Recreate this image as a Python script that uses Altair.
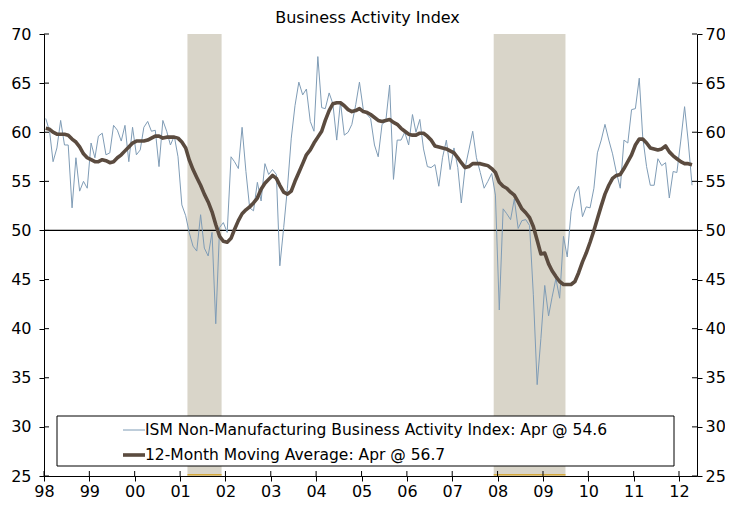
import altair as alt
import pandas as pd

# Monthly ISM Non-Manufacturing Business Activity Index, Jan 1998 - Apr 2012
ism = [
    61.4, 60.1, 57.0, 58.4, 61.2, 58.7, 58.7, 52.3, 57.4, 54.0, 55.0, 54.3,   # 1998
    58.9, 57.4, 59.6, 59.9, 57.7, 57.9, 60.7, 60.2, 59.1, 60.7, 57.0, 60.5,   # 1999
    57.7, 58.2, 60.5, 61.1, 60.1, 60.2, 56.5, 61.2, 60.1, 58.7, 59.6, 57.5,   # 2000
    52.6, 51.5, 49.8, 48.4, 47.9, 51.6, 48.2, 47.4, 49.8, 40.5, 50.3, 50.8,   # 2001
    49.8, 57.5, 57.0, 56.3, 60.5, 56.0, 52.3, 52.0, 54.9, 53.0, 56.8, 55.7,   # 2002
    56.2, 55.7, 46.4, 50.3, 54.3, 59.4, 62.7, 65.1, 63.8, 64.4, 61.1, 60.1,   # 2003
    67.7, 62.5, 62.4, 64.0, 62.9, 59.2, 63.1, 59.7, 60.0, 60.8, 62.8, 65.1,   # 2004
    62.3, 61.8, 61.4, 58.7, 57.5, 60.8, 61.1, 64.8, 55.2, 59.2, 59.2, 60.0,   # 2005
    58.7, 61.8, 60.0, 61.3, 58.3, 56.5, 56.4, 56.7, 54.5, 57.4, 59.2, 56.2,   # 2006
    58.4, 56.4, 52.8, 56.4, 58.2, 60.1, 57.4, 55.9, 54.3, 55.0, 55.8, 53.6,   # 2007
    41.9, 52.2, 51.7, 51.1, 53.2, 50.2, 51.0, 51.1, 50.5, 43.5, 34.3, 39.0,   # 2008
    44.4, 41.3, 43.2, 45.1, 43.1, 49.4, 47.3, 51.9, 53.8, 54.5, 51.4, 52.4,   # 2009
    52.3, 54.3, 57.9, 59.2, 60.8, 59.2, 57.8, 55.9, 54.3, 59.2, 58.9, 62.3,   # 2010
    62.4, 65.5, 59.5, 56.5, 54.6, 54.6, 57.3, 56.6, 56.9, 53.3, 56.0, 55.9,   # 2011
    59.1, 62.6, 59.1, 54.6,                                                   # 2012
]

# 12-month moving average
ma = [
    60.4, 60.3, 60.0, 59.8, 59.8, 59.8, 59.7, 59.3, 59.0, 58.5, 57.8, 57.4,
    57.2, 57.0, 57.0, 57.2, 57.1, 56.9, 57.0, 57.4, 57.7, 58.1, 58.5, 58.9,
    59.1, 59.1, 59.1, 59.2, 59.4, 59.6, 59.6, 59.4, 59.5, 59.5, 59.5, 59.4,
    59.0, 58.4, 57.2, 56.2, 55.4, 54.6, 53.7, 52.9, 51.9, 50.6, 49.4, 48.9,
    48.8, 49.2, 50.1, 51.0, 51.7, 52.1, 52.4, 52.8, 53.3, 54.2, 54.8, 55.2,
    55.6, 55.3, 54.6, 53.9, 53.7, 54.0, 55.0, 55.9, 56.8, 57.7, 58.2, 58.9,
    59.5, 60.1, 61.2, 62.2, 62.9, 63.0, 63.0, 62.7, 62.3, 62.1, 62.2, 62.4,
    62.1, 62.0, 61.8, 61.5, 61.2, 61.1, 61.2, 61.3, 61.0, 60.8, 60.4, 60.1,
    59.8, 59.7, 59.7, 59.9, 59.9, 59.6, 59.2, 58.6, 58.5, 58.4, 58.3, 58.1,
    57.9, 57.4, 56.9, 56.4, 56.5, 56.8, 56.8, 56.8, 56.7, 56.6, 56.3, 55.9,
    54.9, 54.5, 54.3, 53.9, 53.6, 52.9, 52.2, 51.8, 51.3, 50.4, 49.0, 47.6,
    47.7, 46.6, 45.9, 45.3, 44.8, 44.5, 44.5, 44.5, 44.8, 45.7, 46.8, 47.7,
    48.8, 50.0, 51.2, 52.5, 53.7, 54.6, 55.3, 55.6, 55.7, 56.3, 57.0, 57.7,
    58.7, 59.3, 59.3, 58.9, 58.4, 58.3, 58.2, 58.3, 58.6, 58.0, 57.6, 57.3,
    57.0, 56.8, 56.8, 56.7,
]

year_ticks = list(range(1998, 2013))
y_ticks = list(range(25, 75, 5))
rec_start = ["2001-03-01", "2007-12-01"]
rec_end = ["2001-12-01", "2009-07-01"]
legend_labels = [
    "ISM Non-Manufacturing Business Activity Index: Apr @ 54.6",
    "12-Month Moving Average: Apr @ 56.7",
]
title_text = "Business Activity Index"

FONT = "DejaVu Sans"
BLUE = "#7f9cb6"
BROWN = "#5b4b3f"
BAND = "#d9d5c9"

dates = [f"{1998 + i // 12}-{i % 12 + 1:02d}-15" for i in range(len(ism))]
df = pd.DataFrame({"date": dates, "ism": ism, "ma": ma})
rec = pd.DataFrame({"start": rec_start, "end": rec_end})
yt = pd.DataFrame({"v": y_ticks})
xt = pd.DataFrame({"t": [f"{y}-01-01" for y in year_ticks]})

W, H = 653, 442

xscale = alt.Scale(
    type="utc",
    domain=[
        alt.DateTime(year=1998, month=1, date=1, utc=True),
        alt.DateTime(year=2012, month=5, date=25, utc=True),
    ],
)
yscale = alt.Scale(domain=[25, 70], nice=False, zero=False)

xaxis = alt.Axis(
    values=[alt.DateTime(year=y, month=1, date=1, utc=True) for y in year_ticks],
    labelExpr="utcFormat(datum.value, '%y')",
    title=None,
    labelFlush=False,
    labelOverlap=False,
    tickSize=5,
    labelPadding=2,
)

def yaxis(orient, pad):
    return alt.Axis(
        values=y_ticks,
        orient=orient,
        title=None,
        tickSize=5,
        labelPadding=pad,
        labelFlush=False,
        labelOverlap=False,
    )

bands = alt.Chart(rec).mark_rect(color=BAND).encode(
    x=alt.X("start:T", scale=xscale, axis=xaxis),
    x2="end:T",
    y=alt.value(0),
    y2=alt.value(H),
)

band_base = alt.Chart(rec).mark_rule(color="#d6a93a", strokeWidth=1.5).encode(
    x=alt.X("start:T", scale=xscale, axis=xaxis),
    x2="end:T",
    y=alt.value(H - 1.2),
)

fifty = alt.Chart(pd.DataFrame({"v": [50]})).mark_rule(color="black", strokeWidth=1.2).encode(
    y=alt.Y("v:Q", scale=yscale, axis=None),
)

ism_line = alt.Chart(df).mark_line(color=BLUE, strokeWidth=1).encode(
    x=alt.X("date:T", scale=xscale, axis=xaxis),
    y=alt.Y("ism:Q", scale=yscale, axis=yaxis("left", 8)),
)

ma_line = alt.Chart(df).mark_line(color=BROWN, strokeWidth=3.6, strokeJoin="round").encode(
    x=alt.X("date:T", scale=xscale, axis=xaxis),
    y=alt.Y("ma:Q", scale=yscale, axis=yaxis("right", 3)),
)

left_in = alt.Chart(yt).mark_rule(color="black").encode(
    y=alt.Y("v:Q", scale=yscale, axis=None), x=alt.value(0), x2=alt.value(5)
)
right_in = alt.Chart(yt).mark_rule(color="black").encode(
    y=alt.Y("v:Q", scale=yscale, axis=None), x=alt.value(W - 5), x2=alt.value(W)
)
bottom_in = alt.Chart(xt).mark_rule(color="black").encode(
    x=alt.X("t:T", scale=xscale, axis=xaxis), y=alt.value(H - 5), y2=alt.value(H)
)

one = pd.DataFrame({"a": [0]})
title_mark = alt.Chart(one).mark_text(
    align="center", baseline="alphabetic", font=FONT, fontSize=16, color="black"
).encode(x=alt.value(W / 2 - 3), y=alt.value(-11), text=alt.value(title_text))

leg_box = alt.Chart(one).mark_rect(fill="white", stroke="black", strokeWidth=1).encode(
    x=alt.value(13), x2=alt.value(630), y=alt.value(382), y2=alt.value(432)
)
leg_l1 = alt.Chart(one).mark_rule(color=BLUE, strokeWidth=1).encode(
    x=alt.value(79), x2=alt.value(101), y=alt.value(396)
)
leg_l2 = alt.Chart(one).mark_rule(color=BROWN, strokeWidth=3.6).encode(
    x=alt.value(79), x2=alt.value(101), y=alt.value(421)
)
leg_t1 = alt.Chart(one).mark_text(align="left", baseline="middle", font=FONT, fontSize=15.5, color="black").encode(
    x=alt.value(101), y=alt.value(396), text=alt.value(legend_labels[0])
)
leg_t2 = alt.Chart(one).mark_text(align="left", baseline="middle", font=FONT, fontSize=15.5, color="black").encode(
    x=alt.value(101), y=alt.value(421), text=alt.value(legend_labels[1])
)

chart = (
    alt.layer(
        bands, band_base, fifty, ism_line, ma_line, left_in, right_in, bottom_in,
        leg_box, leg_l1, leg_l2, leg_t1, leg_t2, title_mark,
    )
    .resolve_scale(y="shared", x="shared")
    .resolve_axis(y="independent")
    .properties(
        width=W,
        height=H,
        padding={"left": 36, "right": 28, "top": 26, "bottom": 26},
        autosize=alt.AutoSizeParams(type="none"),
    )
    .configure_view(strokeWidth=0)
    .configure_axis(
        labelFont=FONT, labelFontSize=16, labelColor="black",
        domainColor="black", domainWidth=1, tickColor="black", tickWidth=1,
        grid=False, zindex=1,
    )
)

chart.save("out.html", embed_options={"renderer": "svg", "actions": False})
